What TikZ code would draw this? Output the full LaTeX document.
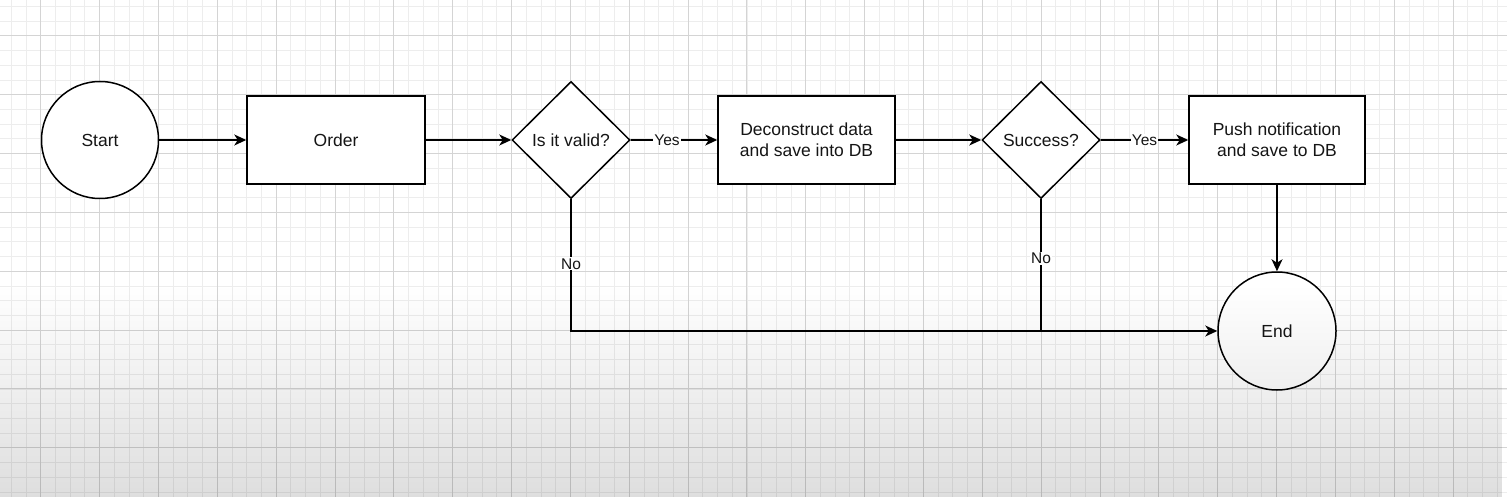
\documentclass[tikz,border=0pt]{standalone}
\usepackage{fontspec}
\setmainfont{Liberation Sans}
\usetikzlibrary{shapes.geometric,arrows.meta,fadings}
\tikzfading[name=downfade, top color=transparent!100, bottom color=transparent!0]
\definecolor{minorgrid}{HTML}{EDEDED}
\definecolor{majorgrid}{HTML}{D4D4D4}
\definecolor{inktext}{HTML}{151515}
\tikzset{
  shapebase/.style={draw=black, line width=1.5pt, fill=white, text=inktext, font=\fontsize{17.5}{21}\selectfont, align=center, inner sep=0pt},
  termnode/.style={shapebase, circle, minimum size=117pt},
  procnode/.style={shapebase, rectangle, minimum width=177pt, minimum height=88pt},
  decnode/.style={shapebase, diamond, minimum width=118pt, minimum height=117pt},
  conn/.style={draw=black, line width=1.5pt, -{Stealth[length=12pt,width=11pt,inset=3.5pt]}},
  plainconn/.style={draw=black, line width=1.5pt},
  elabel/.style={fill=white, text=inktext, font=\fontsize{15.5}{18}\selectfont, inner sep=1pt}
}
\begin{document}
\begin{tikzpicture}[x=1pt,y=-1pt]
\useasboundingbox (0,0) rectangle (1507,497);
\fill[white] (0,0) rectangle (1507,497);
% grid
\foreach \i in {0,...,102} {
  \draw[minorgrid, line width=0.8pt] ({11.27+14.7125*\i},0) -- ({11.27+14.7125*\i},497);
}
\foreach \i in {0,...,34} {
  \draw[minorgrid, line width=0.8pt] (0,{6.4+14.7125*\i}) -- (1507,{6.4+14.7125*\i});
}
\foreach \i in {0,...,25} {
  \draw[majorgrid, line width=0.9pt] ({40.7+58.85*\i},0) -- ({40.7+58.85*\i},497);
}
\foreach \i in {0,...,8} {
  \draw[majorgrid, line width=0.9pt] (0,{35.75+58.85*\i}) -- (1507,{35.75+58.85*\i});
}
% nodes
\node[termnode] (start) at (100,140) {Start};
\node[procnode, minimum width=178pt] (order) at (336,140) {Order};
\node[decnode] (valid) at (571,140) {Is it valid?};
\node[procnode] (decon) at (806.5,140) {Deconstruct data\\and save into DB};
\node[decnode] (succ) at (1041,140) {Success?};
\node[procnode, minimum width=176pt] (push) at (1277,140) {Push notification\\and save to DB};
\node[termnode, minimum size=118pt] (end) at (1277,331) {End};
\coordinate (j2) at (succ.south |- end.west);
% connectors
\draw[conn] (start) -- (order);
\draw[conn] (order) -- (valid);
\draw[conn] (valid) -- node[elabel, pos=0.42] {Yes} (decon);
\draw[conn] (decon) -- (succ);
\draw[conn] (succ) -- node[elabel, pos=0.5] {Yes} (push);
\draw[conn] (push) -- (end);
\draw[conn] (valid.south) |- node[elabel, pos=0.245] {No} (end.west);
\draw[plainconn] (succ.south) -- node[elabel, pos=0.45] {No} (j2);
% bottom shading overlay
\fill[black, opacity=0.13, path fading=downfade] (0,285) rectangle (1507,497);
\end{tikzpicture}
\end{document}
